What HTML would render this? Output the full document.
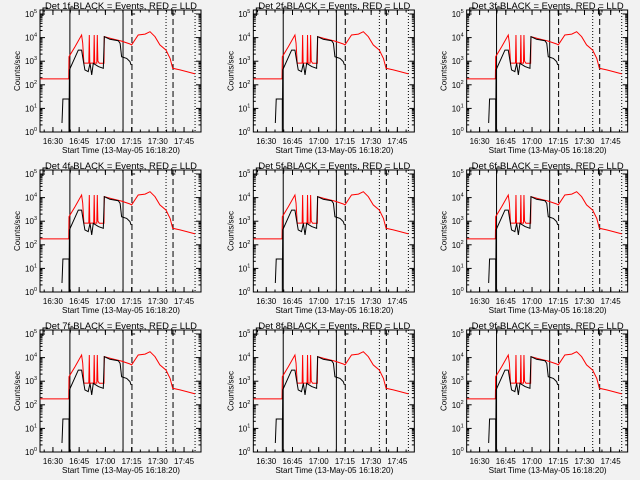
<!DOCTYPE html>
<html><head><meta charset="utf-8"><style>
html,body{margin:0;padding:0;background:#f2f2f2;}
svg{display:block;font-family:"Liberation Sans",sans-serif;}
</style></head><body>
<svg id="c" width="640" height="480" viewBox="0 0 640 480"></svg>
<script>
// time in minutes after 16:00, values are log10(counts/sec)
const detectors = ["1f","2f","3f","4f","5f","6f","7f","8f","9f"];
const xTickLabels = ["16:30","16:45","17:00","17:15","17:30","17:45"];
const xTickMinutes = [30,45,60,75,90,105];
const yTickExps = [0,1,2,3,4,5];
const redTimes = [22.6,39.0,39.2,42.6,46.4,47.0,47.7,50.5,50.8,51.1,53.3,53.6,53.9,55.1,55.4,55.7,56.5,59.2,59.4,64,69.3,74.1,75.0,78.8,82.7,85.5,88.4,91.2,94.7,97.0,98.5,102.7,106.5,111.3];
const redLogs = [2.25,2.25,3.19,3.61,4.11,3.77,2.92,2.92,4.11,2.92,2.92,4.11,2.92,2.92,4.11,3.0,2.91,2.91,4.04,3.95,3.85,3.73,3.69,4.11,4.15,4.25,4.04,3.69,3.47,3.12,2.70,2.63,2.56,2.46];
const blackTimes = [35.2,35.7,39.2,39.2,39.4,44.5,46.4,47.3,48.3,50.2,51.2,52.2,53.1,56.0,58.8,59.4,62.6,67.4,68.4,69.3,72.2,74.1,74.7];
const blackLogs = [0.38,1.40,1.40,0,2.63,3.47,3.47,3.05,2.63,2.56,2.91,2.42,2.91,2.77,2.70,4.04,3.93,3.87,3.76,3.19,3.12,2.98,2.84];
const markerTimes = [39.7,70.1,75.2,94.7,98.7,111.3];
const markerStyles = ["solid","solid","dashed","dotted","dashed","dotted"];

const NS="http://www.w3.org/2000/svg";
const svg=document.getElementById('c');
const L=40,R=201,T=10,B=132;
const tMin=22.6,tMax=114.7,yMin=0,yMax=5.17;
function xs(t){return L+(t-tMin)/(tMax-tMin)*(R-L);}
function ys(v){return B-(v-yMin)/(yMax-yMin)*(B-T);}
function mk(tag,attrs,parent){const e=document.createElementNS(NS,tag);for(const k in attrs)e.setAttribute(k,attrs[k]);parent.appendChild(e);return e;}

detectors.forEach((d,i)=>{
  const ox=(i%3)*213.33, oy=Math.floor(i/3)*160;
  const g=mk('g',{transform:`translate(${ox.toFixed(2)},${oy})`},svg);
  
  
  // frame
  const fr=mk('rect',{x:L,y:T,width:R-L,height:B-T,fill:'none',stroke:'#000','stroke-width':1},g);
  
  
  // title
  const tt=mk('text',{x:121,y:9,'text-anchor':'middle','font-size':9.5,textLength:152,lengthAdjust:'spacingAndGlyphs',fill:'#000'},g);
  tt.textContent=`Det ${d}-BLACK = Events, RED = LLD`;
  
  
  // top step marker
  const sm=mk('path',{d:`M43,16V8H48M70,14V8H75M${xs(75.2)},11V14H${xs(77)}M${xs(98)},8V14H${xs(100)}`,fill:'none',stroke:'#000','stroke-width':1},g);
  
  
  // y ticks
  yTickExps.forEach(e=>{
    const y=ys(e);
    mk('line',{x1:L,x2:L+5,y1:y,y2:y,stroke:'#000'},g);
    mk('line',{x1:R,x2:R-5,y1:y,y2:y,stroke:'#000'},g);
    for(let m=2;m<10&&e<5;m++){const ym=ys(e+Math.log10(m));
      mk('line',{x1:L,x2:L+2.5,y1:ym,y2:ym,stroke:'#000'},g);
      mk('line',{x1:R,x2:R-2.5,y1:ym,y2:ym,stroke:'#000'},g);}
    const tx=mk('text',{x:37,y:y+3,'text-anchor':'end','font-size':8,fill:'#000'},g);
    tx.innerHTML=`10<tspan font-size="5.5" dy="-4">${e}</tspan>`;
    
    
  });
  // x ticks
  xTickMinutes.forEach((m,k)=>{
    const x=xs(m);
    mk('line',{x1:x,x2:x,y1:B,y2:B-5,stroke:'#000'},g);
    mk('line',{x1:x,x2:x,y1:T,y2:T+5,stroke:'#000'},g);
    const tx=mk('text',{x:x,y:144,'text-anchor':'middle','font-size':8,fill:'#000'},g);
    tx.textContent=xTickLabels[k];
    
    
  });
  for(let m=25;m<tMax;m+=5){if(m<tMin)continue;const x=xs(m);
    mk('line',{x1:x,x2:x,y1:B,y2:B-2.5,stroke:'#000'},g);
    mk('line',{x1:x,x2:x,y1:T,y2:T+2.5,stroke:'#000'},g);}
  const xl=mk('text',{x:121,y:153,'text-anchor':'middle','font-size':8.5,textLength:118,lengthAdjust:'spacingAndGlyphs',fill:'#000'},g);
  xl.textContent='Start Time (13-May-05 16:18:20)';
  
  
  const yl=mk('text',{x:0,y:0,'text-anchor':'middle','font-size':8,transform:'translate(20,71) rotate(-90)',fill:'#000'},g);
  yl.textContent='Counts/sec';
  
  
  // marker lines
  markerTimes.forEach((m,k)=>{
    const x=xs(m);const st=markerStyles[k];
    const ln=mk('line',{x1:x,x2:x,y1:T,y2:B,stroke:'#000','stroke-width':1,'stroke-dasharray':st==='dashed'?'6,3':st==='dotted'?'1,2':'none'},g);
    
    
  });
  // series
  const rp=mk('polyline',{points:redTimes.map((t,k)=>xs(t).toFixed(1)+','+ys(redLogs[k]).toFixed(1)).join(' '),fill:'none',stroke:'#ff0000','stroke-width':1},g);
  
  
  const bp=mk('polyline',{points:blackTimes.map((t,k)=>xs(t).toFixed(1)+','+ys(blackLogs[k]).toFixed(1)).join(' '),fill:'none',stroke:'#000','stroke-width':1},g);
  
  
});
</script>
</body></html>
